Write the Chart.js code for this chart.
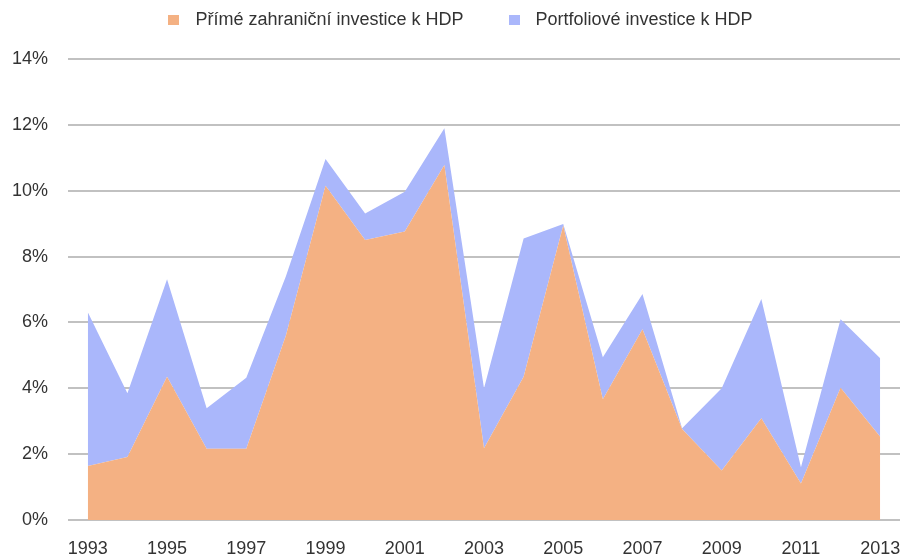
<!DOCTYPE html>
<html>
<head>
<meta charset="utf-8">
<script src="https://cdn.jsdelivr.net/npm/chart.js@4/dist/chart.umd.min.js"></script>
<style>
    body { margin: 0; background: #fff; }
    #wrap { position: relative; width: 905px; height: 557px; }
    #legend {
        position: absolute; top: 9px; left: 0; width: 905px; box-sizing: border-box; padding-left: 16px;
        display: flex; justify-content: center; gap: 45px;
        font: 18px "Liberation Sans", Arial, sans-serif; color: #333;
    }
    #legend span.item { display: flex; align-items: center; }
    #legend span.box { display: inline-block; width: 11px; height: 10px; margin-right: 16px; }
</style>
</head>
<body>
<div id="wrap">
    <canvas id="areaChart" width="905" height="557"></canvas>
    <div id="legend"></div>
</div>
<script>
const years = ["1993", "1994", "1995", "1996", "1997", "1998", "1999", "2000", "2001", "2002", "2003",
    "2004", "2005", "2006", "2007", "2008", "2009", "2010", "2011", "2012", "2013"];

// FDI as % of GDP
const fdiValues = [1.64, 1.91, 4.35, 2.16, 2.16, 5.6, 10.15, 8.5, 8.76, 10.78, 2.18,
    4.35, 8.94, 3.67, 5.79, 2.76, 1.5, 3.09, 1.11, 4.02, 2.53];

// portfolio investment as % of GDP (stacked on top of FDI)
const portfolioValues = [4.67, 1.94, 2.96, 1.23, 2.16, 1.8, 0.81, 0.81, 1.21, 1.12, 1.82,
    4.2, 0.05, 1.27, 1.07, 0.03, 2.5, 3.62, 0.49, 2.08, 2.38];

const yTicks = [0, 2, 4, 6, 8, 10, 12, 14];

const seriesNames = ["Přímé zahraniční investice k HDP", "Portfoliové investice k HDP"];
const seriesColors = ["#f4b183", "#aab7fb"];

const font = { family: '"Liberation Sans", Arial, sans-serif', size: 18 };

const chart = new Chart(document.getElementById('areaChart'), {
    type: 'line',
    data: {
        labels: years,
        datasets: [
            {
                label: seriesNames[0],
                data: fdiValues,
                backgroundColor: seriesColors[0],
                borderWidth: 0,
                pointRadius: 0,
                fill: 'origin',
            }, {
                label: seriesNames[1],
                data: portfolioValues,
                backgroundColor: seriesColors[1],
                borderWidth: 0,
                pointRadius: 0,
                fill: '-1',
            }
        ]
    },
    options: {
        responsive: false,
        animation: false,
        layout: {
            padding: { top: 59, right: 5, left: 0, bottom: 0 }
        },
        plugins: {
            legend: { display: false },
            tooltip: { enabled: false }
        },
        scales: {
            x: {
                offset: true,
                grid: { display: false, drawTicks: false },
                border: { display: false },
                ticks: {
                    autoSkip: false,
                    maxRotation: 0,
                    padding: 18,
                    color: '#333',
                    font: font,
                    callback: function (value, index) {
                        return index % 2 === 0 ? this.getLabelForValue(value) : '';
                    }
                },
                afterFit: (scale) => {
                    scale.height = 37;
                    scale.paddingLeft = 0;
                    scale.paddingRight = 0;
                }
            },
            y: {
                stacked: true,
                min: yTicks[0],
                max: yTicks[yTicks.length - 1],
                z: 1,
                afterBuildTicks: (scale) => {
                    scale.ticks = yTicks.map(v => ({ value: v }));
                },
                grid: {
                    color: 'rgba(100, 100, 100, 0.4)',
                    lineWidth: 2,
                    drawTicks: false
                },
                border: { display: false },
                ticks: {
                    padding: 20,
                    color: '#333',
                    font: font,
                    callback: (v) => v + '%'
                },
                afterFit: (scale) => { scale.width = 68; }
            }
        }
    }
});

// legend built from the chart datasets
const legendEl = document.getElementById('legend');
chart.data.datasets.forEach((ds) => {
    const item = document.createElement('span');
    item.className = 'item';
    const box = document.createElement('span');
    box.className = 'box';
    box.style.background = ds.backgroundColor;
    item.appendChild(box);
    item.appendChild(document.createTextNode(ds.label));
    legendEl.appendChild(item);
});
</script>
</body>
</html>
